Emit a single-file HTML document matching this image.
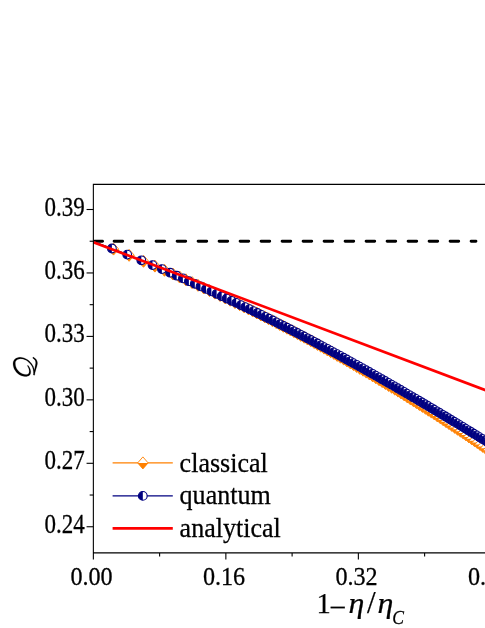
<!DOCTYPE html>
<html><head><meta charset="utf-8"><title>chart</title>
<style>
html,body{margin:0;padding:0;background:#fff;}
body{width:485px;height:628px;overflow:hidden;}
svg{display:block;will-change:transform;}
text{font-family:"Liberation Serif",serif;fill:#000;stroke:#000;stroke-width:0.25px;}
</style></head><body>
<svg width="485" height="628" viewBox="0 0 485 628">
<rect width="485" height="628" fill="#fff"/>
<defs>
<g id="d"><path d="M0,-6 L5.2,0 L0,6 L-5.2,0 Z" fill="#fff" stroke="#FF8000" stroke-width="0.9"/><path d="M-5.2,0 L5.2,0 L0,6 Z" fill="#FF8000"/></g>
<g id="c"><circle r="4.35" fill="#fff" stroke="#000080" stroke-width="1.1"/><path d="M0,-4.35 A4.35,4.35 0 0 0 0,4.35 Z" fill="#000080"/></g>
</defs>
<g stroke="#000" stroke-width="2.9" stroke-linecap="round"><line x1="94.6" y1="241.25" x2="102.5" y2="241.25"/><line x1="114.1" y1="241.25" x2="475.95" y2="241.25" stroke-dasharray="8.6,12.4"/></g>
<polyline points="93.3,241.5 113.5,249.1 129.1,255.3 143.5,261.3 154.9,266.1 164.5,270.3 172.9,274.0 179.6,277.0 185.9,279.8 192.1,282.6 198.0,285.3 203.8,288.0 209.5,290.6 214.9,293.1 220.1,295.5 225.2,297.9 230.2,300.2 235.0,302.5 239.7,304.7 244.2,306.9 248.6,309.0 252.8,311.0 256.9,313.0 260.9,315.0 264.8,316.9 268.6,318.8 272.4,320.7 276.2,322.6 279.8,324.5 283.4,326.3 287.0,328.2 290.5,330.0 294.0,331.8 297.4,333.6 300.8,335.4 304.2,337.2 307.5,339.0 310.9,340.8 314.2,342.6 317.5,344.4 320.8,346.2 324.1,348.1 327.4,349.9 330.7,351.7 334.0,353.5 337.2,355.4 340.5,357.2 343.8,359.1 347.0,360.9 350.2,362.8 353.5,364.6 356.7,366.5 359.9,368.4 363.1,370.2 366.3,372.1 369.5,374.0 372.7,375.9 375.9,377.8 379.1,379.7 382.2,381.6 385.4,383.5 388.6,385.4 391.7,387.3 394.9,389.2 398.0,391.1 401.1,393.0 404.2,394.9 407.3,396.9 410.3,398.8 413.4,400.7 416.4,402.6 419.4,404.5 422.5,406.4 425.5,408.3 428.4,410.2 431.4,412.1 434.4,414.0 437.3,415.9 440.3,417.8 443.2,419.8 446.1,421.7 449.0,423.6 451.9,425.5 454.8,427.4 457.6,429.3 460.5,431.2 463.3,433.1 466.1,435.0 468.9,436.9 471.7,438.8 474.5,440.7 477.3,442.6 480.1,444.5 482.8,446.4 485.6,448.3 488.3,450.2 491.0,452.1 493.8,454.0 496.5,455.9 499.2,457.8 501.9,459.7" fill="none" stroke="#FF8000" stroke-width="1.2"/>
<use href="#d" x="113.5" y="249.1"/><use href="#d" x="129.1" y="255.3"/><use href="#d" x="143.5" y="261.3"/><use href="#d" x="154.9" y="266.1"/><use href="#d" x="164.5" y="270.3"/><use href="#d" x="172.9" y="274.0"/><use href="#d" x="179.6" y="277.0"/><use href="#d" x="185.9" y="279.8"/><use href="#d" x="192.1" y="282.6"/><use href="#d" x="198.0" y="285.3"/><use href="#d" x="203.8" y="288.0"/><use href="#d" x="209.5" y="290.6"/><use href="#d" x="214.9" y="293.1"/><use href="#d" x="220.1" y="295.5"/><use href="#d" x="225.2" y="297.9"/><use href="#d" x="230.2" y="300.2"/><use href="#d" x="235.0" y="302.5"/><use href="#d" x="239.7" y="304.7"/><use href="#d" x="244.2" y="306.9"/><use href="#d" x="248.6" y="309.0"/><use href="#d" x="252.8" y="311.0"/><use href="#d" x="256.9" y="313.0"/><use href="#d" x="260.9" y="315.0"/><use href="#d" x="264.8" y="316.9"/><use href="#d" x="268.6" y="318.8"/><use href="#d" x="272.4" y="320.7"/><use href="#d" x="276.2" y="322.6"/><use href="#d" x="279.8" y="324.5"/><use href="#d" x="283.4" y="326.3"/><use href="#d" x="287.0" y="328.2"/><use href="#d" x="290.5" y="330.0"/><use href="#d" x="294.0" y="331.8"/><use href="#d" x="297.4" y="333.6"/><use href="#d" x="300.8" y="335.4"/><use href="#d" x="304.2" y="337.2"/><use href="#d" x="307.5" y="339.0"/><use href="#d" x="310.9" y="340.8"/><use href="#d" x="314.2" y="342.6"/><use href="#d" x="317.5" y="344.4"/><use href="#d" x="320.8" y="346.2"/><use href="#d" x="324.1" y="348.1"/><use href="#d" x="327.4" y="349.9"/><use href="#d" x="330.7" y="351.7"/><use href="#d" x="334.0" y="353.5"/><use href="#d" x="337.2" y="355.4"/><use href="#d" x="340.5" y="357.2"/><use href="#d" x="343.8" y="359.1"/><use href="#d" x="347.0" y="360.9"/><use href="#d" x="350.2" y="362.8"/><use href="#d" x="353.5" y="364.6"/><use href="#d" x="356.7" y="366.5"/><use href="#d" x="359.9" y="368.4"/><use href="#d" x="363.1" y="370.2"/><use href="#d" x="366.3" y="372.1"/><use href="#d" x="369.5" y="374.0"/><use href="#d" x="372.7" y="375.9"/><use href="#d" x="375.9" y="377.8"/><use href="#d" x="379.1" y="379.7"/><use href="#d" x="382.2" y="381.6"/><use href="#d" x="385.4" y="383.5"/><use href="#d" x="388.6" y="385.4"/><use href="#d" x="391.7" y="387.3"/><use href="#d" x="394.9" y="389.2"/><use href="#d" x="398.0" y="391.1"/><use href="#d" x="401.1" y="393.0"/><use href="#d" x="404.2" y="394.9"/><use href="#d" x="407.3" y="396.9"/><use href="#d" x="410.3" y="398.8"/><use href="#d" x="413.4" y="400.7"/><use href="#d" x="416.4" y="402.6"/><use href="#d" x="419.4" y="404.5"/><use href="#d" x="422.5" y="406.4"/><use href="#d" x="425.5" y="408.3"/><use href="#d" x="428.4" y="410.2"/><use href="#d" x="431.4" y="412.1"/><use href="#d" x="434.4" y="414.0"/><use href="#d" x="437.3" y="415.9"/><use href="#d" x="440.3" y="417.8"/><use href="#d" x="443.2" y="419.8"/><use href="#d" x="446.1" y="421.7"/><use href="#d" x="449.0" y="423.6"/><use href="#d" x="451.9" y="425.5"/><use href="#d" x="454.8" y="427.4"/><use href="#d" x="457.6" y="429.3"/><use href="#d" x="460.5" y="431.2"/><use href="#d" x="463.3" y="433.1"/><use href="#d" x="466.1" y="435.0"/><use href="#d" x="468.9" y="436.9"/><use href="#d" x="471.7" y="438.8"/><use href="#d" x="474.5" y="440.7"/><use href="#d" x="477.3" y="442.6"/><use href="#d" x="480.1" y="444.5"/><use href="#d" x="482.8" y="446.4"/><use href="#d" x="485.6" y="448.3"/><use href="#d" x="488.3" y="450.2"/><use href="#d" x="491.0" y="452.1"/><use href="#d" x="493.8" y="454.0"/><use href="#d" x="496.5" y="455.9"/><use href="#d" x="499.2" y="457.8"/><use href="#d" x="501.9" y="459.7"/>
<polyline points="93.4,241.5 111.9,248.5 127.2,254.6 141.3,260.3 152.5,265.1 161.9,269.1 170.1,272.7 176.7,275.7 182.9,278.4 188.9,281.2 194.8,283.8 200.5,286.4 206.0,288.9 211.4,291.4 216.6,293.8 221.7,296.2 226.7,298.5 231.5,300.8 236.2,302.9 240.7,305.1 245.1,307.1 249.3,309.1 253.4,311.1 257.4,313.0 261.3,314.9 265.1,316.8 268.9,318.7 272.7,320.5 276.3,322.4 279.9,324.2 283.5,326.0 287.0,327.7 290.5,329.5 293.9,331.3 297.3,333.0 300.7,334.8 304.0,336.5 307.4,338.3 310.7,340.0 314.0,341.8 317.3,343.5 320.6,345.3 323.9,347.1 327.2,348.8 330.5,350.6 333.7,352.4 337.0,354.1 340.2,355.9 343.5,357.7 346.7,359.5 350.0,361.3 353.2,363.1 356.4,364.8 359.6,366.6 362.8,368.4 366.0,370.2 369.2,372.0 372.4,373.8 375.6,375.6 378.8,377.4 381.9,379.2 385.1,381.0 388.2,382.8 391.4,384.6 394.5,386.4 397.6,388.2 400.7,390.0 403.8,391.8 406.8,393.6 409.9,395.4 412.9,397.2 415.9,398.9 419.0,400.7 422.0,402.5 424.9,404.2 427.9,406.0 430.9,407.8 433.8,409.5 436.8,411.3 439.7,413.0 442.6,414.8 445.5,416.5 448.4,418.2 451.2,420.0 454.1,421.7 457.0,423.4 459.8,425.1 462.6,426.8 465.4,428.6 468.2,430.3 471.0,432.0 473.8,433.7 476.6,435.4 479.3,437.1 482.1,438.8 484.8,440.4 487.5,442.1 490.3,443.8 493.0,445.5 495.7,447.2 498.4,448.8" fill="none" stroke="#000080" stroke-width="1.2"/>
<use href="#c" x="111.9" y="248.5"/><use href="#c" x="127.2" y="254.6"/><use href="#c" x="141.3" y="260.3"/><use href="#c" x="152.5" y="265.1"/><use href="#c" x="161.9" y="269.1"/><use href="#c" x="170.1" y="272.7"/><use href="#c" x="176.7" y="275.7"/><use href="#c" x="182.9" y="278.4"/><use href="#c" x="188.9" y="281.2"/><use href="#c" x="194.8" y="283.8"/><use href="#c" x="200.5" y="286.4"/><use href="#c" x="206.0" y="288.9"/><use href="#c" x="211.4" y="291.4"/><use href="#c" x="216.6" y="293.8"/><use href="#c" x="221.7" y="296.2"/><use href="#c" x="226.7" y="298.5"/><use href="#c" x="231.5" y="300.8"/><use href="#c" x="236.2" y="302.9"/><use href="#c" x="240.7" y="305.1"/><use href="#c" x="245.1" y="307.1"/><use href="#c" x="249.3" y="309.1"/><use href="#c" x="253.4" y="311.1"/><use href="#c" x="257.4" y="313.0"/><use href="#c" x="261.3" y="314.9"/><use href="#c" x="265.1" y="316.8"/><use href="#c" x="268.9" y="318.7"/><use href="#c" x="272.7" y="320.5"/><use href="#c" x="276.3" y="322.4"/><use href="#c" x="279.9" y="324.2"/><use href="#c" x="283.5" y="326.0"/><use href="#c" x="287.0" y="327.7"/><use href="#c" x="290.5" y="329.5"/><use href="#c" x="293.9" y="331.3"/><use href="#c" x="297.3" y="333.0"/><use href="#c" x="300.7" y="334.8"/><use href="#c" x="304.0" y="336.5"/><use href="#c" x="307.4" y="338.3"/><use href="#c" x="310.7" y="340.0"/><use href="#c" x="314.0" y="341.8"/><use href="#c" x="317.3" y="343.5"/><use href="#c" x="320.6" y="345.3"/><use href="#c" x="323.9" y="347.1"/><use href="#c" x="327.2" y="348.8"/><use href="#c" x="330.5" y="350.6"/><use href="#c" x="333.7" y="352.4"/><use href="#c" x="337.0" y="354.1"/><use href="#c" x="340.2" y="355.9"/><use href="#c" x="343.5" y="357.7"/><use href="#c" x="346.7" y="359.5"/><use href="#c" x="350.0" y="361.3"/><use href="#c" x="353.2" y="363.1"/><use href="#c" x="356.4" y="364.8"/><use href="#c" x="359.6" y="366.6"/><use href="#c" x="362.8" y="368.4"/><use href="#c" x="366.0" y="370.2"/><use href="#c" x="369.2" y="372.0"/><use href="#c" x="372.4" y="373.8"/><use href="#c" x="375.6" y="375.6"/><use href="#c" x="378.8" y="377.4"/><use href="#c" x="381.9" y="379.2"/><use href="#c" x="385.1" y="381.0"/><use href="#c" x="388.2" y="382.8"/><use href="#c" x="391.4" y="384.6"/><use href="#c" x="394.5" y="386.4"/><use href="#c" x="397.6" y="388.2"/><use href="#c" x="400.7" y="390.0"/><use href="#c" x="403.8" y="391.8"/><use href="#c" x="406.8" y="393.6"/><use href="#c" x="409.9" y="395.4"/><use href="#c" x="412.9" y="397.2"/><use href="#c" x="415.9" y="398.9"/><use href="#c" x="419.0" y="400.7"/><use href="#c" x="422.0" y="402.5"/><use href="#c" x="424.9" y="404.2"/><use href="#c" x="427.9" y="406.0"/><use href="#c" x="430.9" y="407.8"/><use href="#c" x="433.8" y="409.5"/><use href="#c" x="436.8" y="411.3"/><use href="#c" x="439.7" y="413.0"/><use href="#c" x="442.6" y="414.8"/><use href="#c" x="445.5" y="416.5"/><use href="#c" x="448.4" y="418.2"/><use href="#c" x="451.2" y="420.0"/><use href="#c" x="454.1" y="421.7"/><use href="#c" x="457.0" y="423.4"/><use href="#c" x="459.8" y="425.1"/><use href="#c" x="462.6" y="426.8"/><use href="#c" x="465.4" y="428.6"/><use href="#c" x="468.2" y="430.3"/><use href="#c" x="471.0" y="432.0"/><use href="#c" x="473.8" y="433.7"/><use href="#c" x="476.6" y="435.4"/><use href="#c" x="479.3" y="437.1"/><use href="#c" x="482.1" y="438.8"/><use href="#c" x="484.8" y="440.4"/><use href="#c" x="487.5" y="442.1"/><use href="#c" x="490.3" y="443.8"/><use href="#c" x="493.0" y="445.5"/><use href="#c" x="495.7" y="447.2"/><use href="#c" x="498.4" y="448.8"/>
<line x1="93.36" y1="242.30" x2="500" y2="395.68" stroke="#FF0000" stroke-width="2.7"/>
<path d="M93.36,559.50 L93.36,184.37 L500,184.37 M93.36,552.90 L500,552.90" fill="none" stroke="#000" stroke-width="1.1" stroke-linejoin="miter"/>
<line x1="86.56" y1="209.50" x2="93.36" y2="209.50" stroke="#000" stroke-width="1.1"/><text transform="translate(84.80,215.50) scale(1.000,1.145)" font-size="23" text-anchor="end">0.39</text>
<line x1="86.56" y1="272.95" x2="93.36" y2="272.95" stroke="#000" stroke-width="1.1"/><text transform="translate(84.80,278.95) scale(1.000,1.145)" font-size="23" text-anchor="end">0.36</text>
<line x1="86.56" y1="336.40" x2="93.36" y2="336.40" stroke="#000" stroke-width="1.1"/><text transform="translate(84.80,342.40) scale(1.000,1.145)" font-size="23" text-anchor="end">0.33</text>
<line x1="86.56" y1="399.85" x2="93.36" y2="399.85" stroke="#000" stroke-width="1.1"/><text transform="translate(84.80,405.85) scale(1.000,1.145)" font-size="23" text-anchor="end">0.30</text>
<line x1="86.56" y1="463.30" x2="93.36" y2="463.30" stroke="#000" stroke-width="1.1"/><text transform="translate(84.80,469.30) scale(1.000,1.145)" font-size="23" text-anchor="end">0.27</text>
<line x1="86.56" y1="526.75" x2="93.36" y2="526.75" stroke="#000" stroke-width="1.1"/><text transform="translate(84.80,532.75) scale(1.000,1.145)" font-size="23" text-anchor="end">0.24</text>
<line x1="89.66" y1="241.23" x2="93.36" y2="241.23" stroke="#000" stroke-width="1.1"/><line x1="89.66" y1="304.68" x2="93.36" y2="304.68" stroke="#000" stroke-width="1.1"/><line x1="89.66" y1="368.12" x2="93.36" y2="368.12" stroke="#000" stroke-width="1.1"/><line x1="89.66" y1="431.58" x2="93.36" y2="431.58" stroke="#000" stroke-width="1.1"/><line x1="89.66" y1="495.03" x2="93.36" y2="495.03" stroke="#000" stroke-width="1.1"/>
<text transform="translate(91.56,584.50) scale(1.050,1.100)" font-size="23" text-anchor="middle">0.00</text>
<line x1="225.86" y1="552.90" x2="225.86" y2="559.50" stroke="#000" stroke-width="1.1"/><text transform="translate(224.06,584.50) scale(1.050,1.100)" font-size="23" text-anchor="middle">0.16</text>
<line x1="358.36" y1="552.90" x2="358.36" y2="559.50" stroke="#000" stroke-width="1.1"/><text transform="translate(356.56,584.50) scale(1.050,1.100)" font-size="23" text-anchor="middle">0.32</text>
<line x1="490.86" y1="552.90" x2="490.86" y2="559.50" stroke="#000" stroke-width="1.1"/><text transform="translate(489.06,584.50) scale(1.050,1.100)" font-size="23" text-anchor="middle">0.48</text>
<line x1="159.61" y1="552.90" x2="159.61" y2="556.40" stroke="#000" stroke-width="1.1"/><line x1="292.11" y1="552.90" x2="292.11" y2="556.40" stroke="#000" stroke-width="1.1"/><line x1="424.61" y1="552.90" x2="424.61" y2="556.40" stroke="#000" stroke-width="1.1"/>
<line x1="112.6" y1="462.8" x2="172.8" y2="462.8" stroke="#FF8000" stroke-width="1.3"/><use href="#d" x="142.9" y="462.9"/>
<line x1="112.6" y1="495.8" x2="172.8" y2="495.8" stroke="#000080" stroke-width="1.3"/><use href="#c" x="142.8" y="495.9"/>
<line x1="112.6" y1="528.4" x2="172.8" y2="528.4" stroke="#FF0000" stroke-width="2.8"/>
<text transform="translate(179.60,471.60) scale(1.010,1.050)" font-size="25.8" text-anchor="start">classical</text>
<text transform="translate(179.60,504.40) scale(1.010,1.050)" font-size="25.8" text-anchor="start">quantum</text>
<text transform="translate(179.60,537.10) scale(1.010,1.050)" font-size="25.8" text-anchor="start">analytical</text>
<path transform="translate(8,348) scale(0.082474)" d="M234,215 L238,221 L241,227 L244,233 L247,239 L250,246 L252,253 L254,259 L256,266 L256,272 L257,279 L257,285 L256,291 L255,297 L254,302 L252,306 L250,310 L247,313 L244,315 L240,317 L235,319 L230,320 L224,320 L218,321 L211,320 L204,320 L197,319 L191,317 L184,315 L172,311 L162,306 L151,300 L142,293 L133,286 L124,277 L117,268 L110,259 L104,248 L99,237 L95,226 L92,214 L90,202 L89,189 L89,182 L89,175 L91,168 L93,162 L96,157 L99,152 L104,148 L109,144 L115,140 L122,137 L129,135 L137,133 L146,132 L155,131 L167,132 L178,134 L190,137 L201,141 L213,146 L224,152 L234,159 L244,167 L254,176 L263,185 L272,195 L280,205 L287,216 L294,228 L296,233 L298,239 L300,245 L302,251 L304,258 L305,265 L306,273 L307,280 L308,288 L308,296 L309,304 L309,312 L308,320 L308,328 L324,328 L324,320 L324,312 L324,303 L323,295 L323,287 L322,278 L320,271 L319,263 L317,255 L315,248 L313,241 L311,234 L309,228 L306,222 L299,210 L291,198 L283,186 L274,175 L264,165 L254,155 L243,147 L232,139 L220,132 L208,126 L195,121 L182,117 L169,114 L155,113 L145,113 L134,113 L124,115 L115,117 L106,121 L97,125 L89,130 L82,136 L76,143 L71,151 L66,160 L63,169 L62,180 L61,191 L62,205 L65,220 L68,234 L73,248 L79,261 L87,273 L95,285 L104,296 L114,306 L125,315 L137,323 L149,330 L162,336 L176,341 L185,343 L193,344 L202,345 L210,346 L218,346 L227,345 L235,343 L242,341 L249,338 L256,334 L262,329 L267,323 L271,316 L274,308 L275,300 L276,292 L276,285 L275,277 L273,270 L271,262 L269,255 L266,248 L263,240 L259,234 L255,227 L251,221 L247,215 L242,209Z M321,329 L323,321 L325,312 L327,303 L329,294 L332,285 L335,276 L337,266 L340,256 L343,246 L346,237 L349,227 L351,217 L354,207 L356,197 L357,189 L357,180 L356,172 L354,164 L352,157 L348,150 L345,143 L340,137 L335,131 L330,126 L324,121 L318,117 L312,113 L305,110 L299,122 L304,126 L309,129 L314,133 L318,138 L322,142 L326,147 L329,152 L331,158 L333,163 L335,169 L335,175 L335,181 L335,187 L334,193 L332,202 L331,212 L329,222 L327,232 L325,242 L323,252 L321,262 L320,272 L318,282 L316,291 L315,301 L313,310 L312,319 L311,327Z" fill="#000" stroke="#000" stroke-width="2" stroke-linejoin="round"/>
<text transform="translate(316.60,613.40) scale(1.000,1.000)" font-size="28.6" text-anchor="start">1</text>
<text transform="translate(329.10,616.50) scale(1.060,1.000)" font-size="28.6" text-anchor="start">−</text>
<text transform="translate(348.60,613.30) scale(1.100,1.000)" font-size="29" text-anchor="start" font-style="italic">η</text>
<text transform="translate(366.90,613.30) scale(1.000,1.000)" font-size="31" text-anchor="start">/</text>
<text transform="translate(377.60,613.30) scale(1.100,1.000)" font-size="29" text-anchor="start" font-style="italic">η</text>
<text transform="translate(392.30,624.10) scale(0.950,1.000)" font-size="18.5" text-anchor="start" font-style="italic">C</text>
</svg>
</body></html>
